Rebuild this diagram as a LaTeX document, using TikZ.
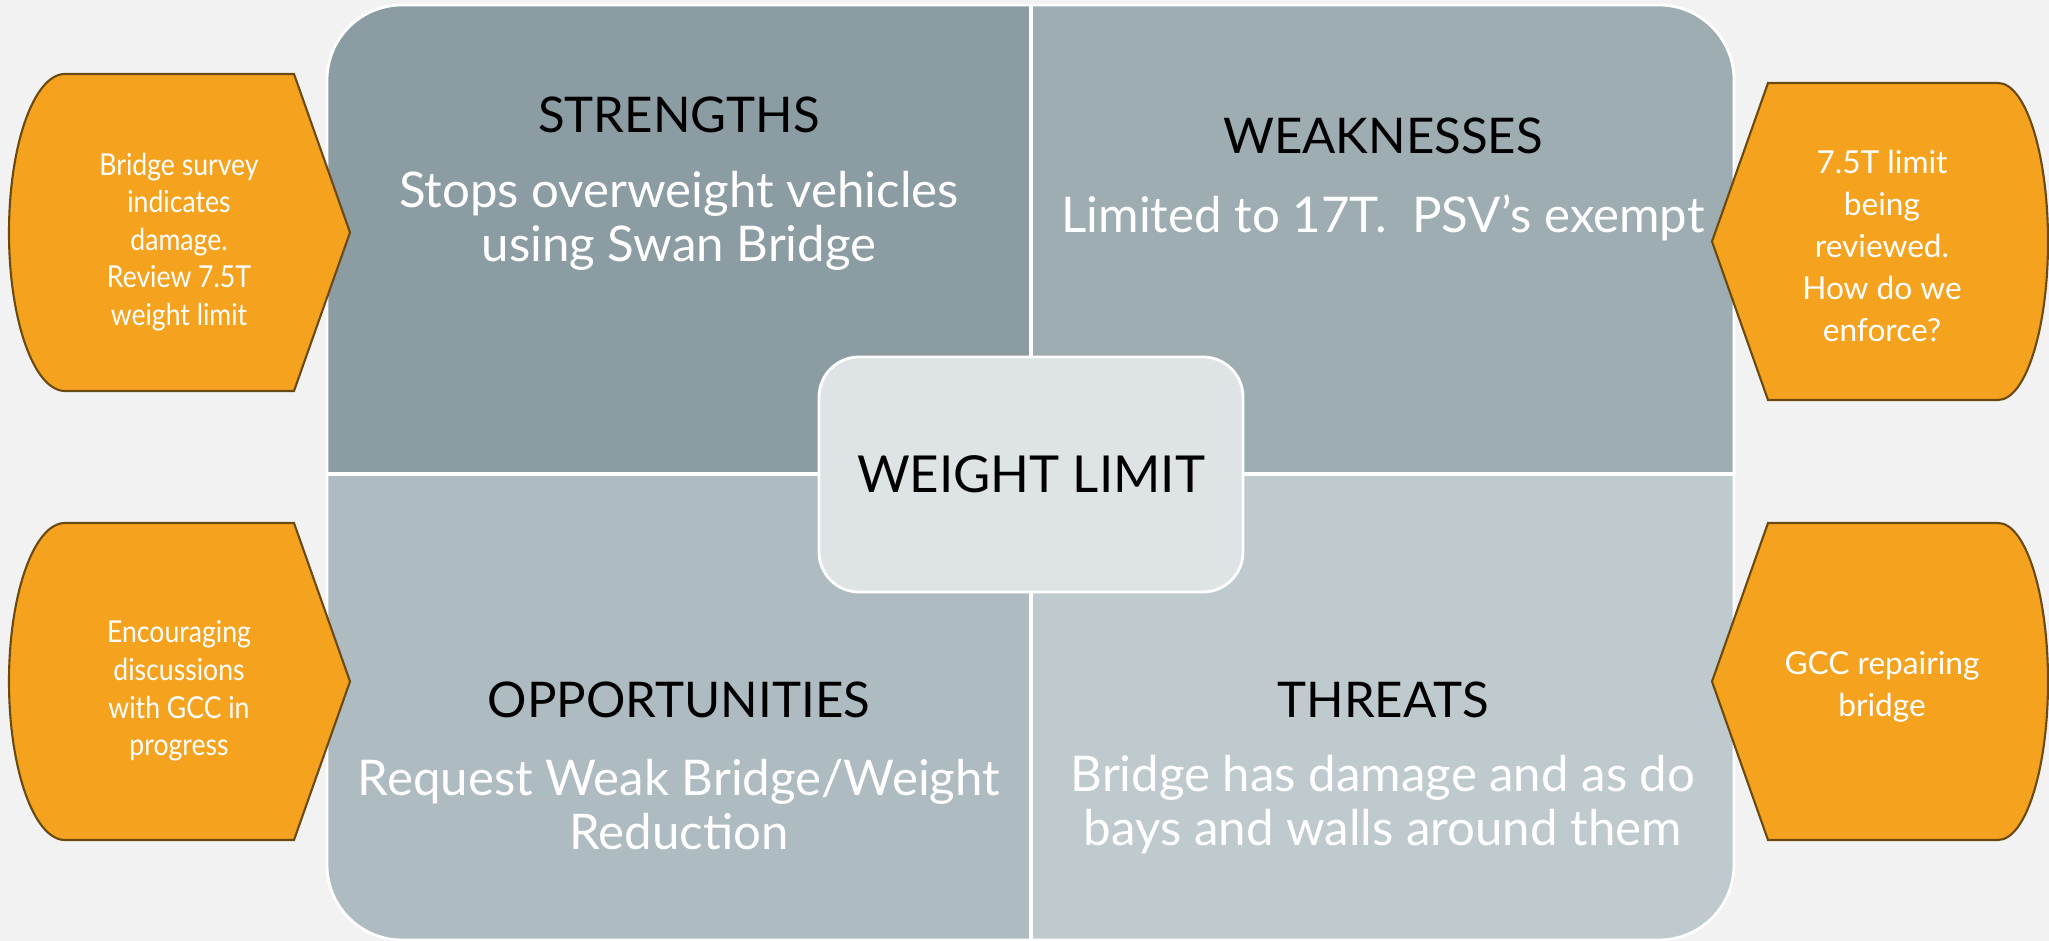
\documentclass[tikz,border=0pt]{standalone}
\usepackage{fontspec}
\setmainfont{Lato}
\newfontfamily\narrowfont[FakeStretch=0.88]{Lato}
\usepackage{tikz}
\usetikzlibrary{calc}

\definecolor{pageGrey}{HTML}{F2F2F2}
\definecolor{swotS}{HTML}{8C9CA3}
\definecolor{swotW}{HTML}{9EADB2}
\definecolor{swotO}{HTML}{AEBBC0}
\definecolor{swotT}{HTML}{BFCACE}
\definecolor{hubGrey}{HTML}{DEE3E5}
\definecolor{noteOrange}{HTML}{F5A31F}
\definecolor{noteEdge}{HTML}{6B4A12}

\begin{document}
\begin{tikzpicture}[
	head/.style={text=black,font=\fontsize{14}{17}\selectfont},
	body/.style={text=white,align=center,font=\fontsize{14}{15.4}\selectfont},
	hub/.style={fill=hubGrey,draw=white,line width=0.8pt,rounded corners=4mm,
		minimum width=4.24cm,minimum height=2.35cm,font=\fontsize{14.5}{17}\selectfont},
	callout/.style={fill=noteOrange,draw=noteEdge,line width=0.6pt},
	leftnote/.style={text=white,align=center,font=\narrowfont\fontsize{8.6}{10.7}\selectfont},
	rightnote/.style={text=white,align=center,font=\fontsize{9}{11.9}\selectfont}
]
\useasboundingbox (0,0) rectangle (20.49,9.41);
\fill[pageGrey] (0,0) rectangle (20.49,9.41);

% four quarters of the panel
\begin{scope}
	\clip[rounded corners=7.5mm] (3.27,0.01) rectangle (17.34,9.36);
	\fill[swotS] (3.27,4.67) rectangle (10.31,9.36);
	\fill[swotW] (10.31,4.67) rectangle (17.34,9.36);
	\fill[swotO] (3.27,0.01) rectangle (10.31,4.67);
	\fill[swotT] (10.31,0.01) rectangle (17.34,4.67);
\end{scope}
\draw[white,line width=0.8pt,rounded corners=7.5mm] (3.27,0.01) rectangle (17.34,9.36);
\coordinate (top) at (10.31,9.36);
\coordinate (bot) at (10.31,0.01);
\coordinate (lft) at (3.27,4.67);
\coordinate (rgt) at (17.34,4.67);
\draw[white,line width=1.2pt] (top)--(bot);
\draw[white,line width=1.2pt] (lft)--(rgt);

% headings and texts
\node[head] (S) at (6.79,8.26) {STRENGTHS};
\node[body] (Sb) at (6.79,7.20) {Stops overweight vehicles\\using Swan Bridge};
\node[head] (W) at (13.83,8.05) {WEAKNESSES};
\node[body] (Wb) at (13.83,7.23) {Limited to 17T.\ \ PSV’s exempt};
\node[head] (O) at (6.79,2.41) {OPPORTUNITIES};
\node[body] (Ob) at (6.79,1.36) {Request Weak Bridge/Weight\\Reduction};
\node[head] (T) at (13.83,2.41) {THREATS};
\node[body] (Tb) at (13.83,1.36) {Bridge has damage and as do\\bays and walls around them};

\node[hub] (WL) at (10.31,4.665) {WEIGHT LIMIT};

% callouts on the left
\begin{scope}[yshift=0cm]
	\draw[callout] (0.65,8.67) -- (2.94,8.67) -- (3.50,7.085) -- (2.94,5.50) -- (0.65,5.50)
		arc[start angle=270,end angle=90,x radius=0.56,y radius=1.585] -- cycle;
	\node[leftnote] (nS) at (1.79,6.99) {Bridge survey\\indicates\\damage.\\Review 7.5T\\weight limit};
\end{scope}
\begin{scope}[yshift=0cm]
	\draw[callout] (0.65,4.18) -- (2.94,4.18) -- (3.50,2.595) -- (2.94,1.01) -- (0.65,1.01)
		arc[start angle=270,end angle=90,x radius=0.56,y radius=1.585] -- cycle;
	\node[leftnote] (nO) at (1.79,2.50) {Encouraging\\discussions\\with GCC in\\progress};
\end{scope}

% callouts on the right
\begin{scope}[yshift=0cm]
	\draw[callout] (17.68,8.58) -- (19.98,8.58)
		arc[start angle=90,end angle=-90,x radius=0.5,y radius=1.585]
		-- (17.68,5.41) -- (17.12,6.995) -- cycle;
	\node[rightnote] (nW) at (18.82,6.95) {7.5T limit\\being\\reviewed.\\How do we\\enforce?};
\end{scope}
\begin{scope}[yshift=0cm]
	\draw[callout] (17.68,4.18) -- (19.98,4.18)
		arc[start angle=90,end angle=-90,x radius=0.5,y radius=1.585]
		-- (17.68,1.01) -- (17.12,2.595) -- cycle;
	\node[rightnote] (nT) at (18.82,2.54) {GCC repairing\\bridge};
\end{scope}
\end{tikzpicture}
\end{document}
